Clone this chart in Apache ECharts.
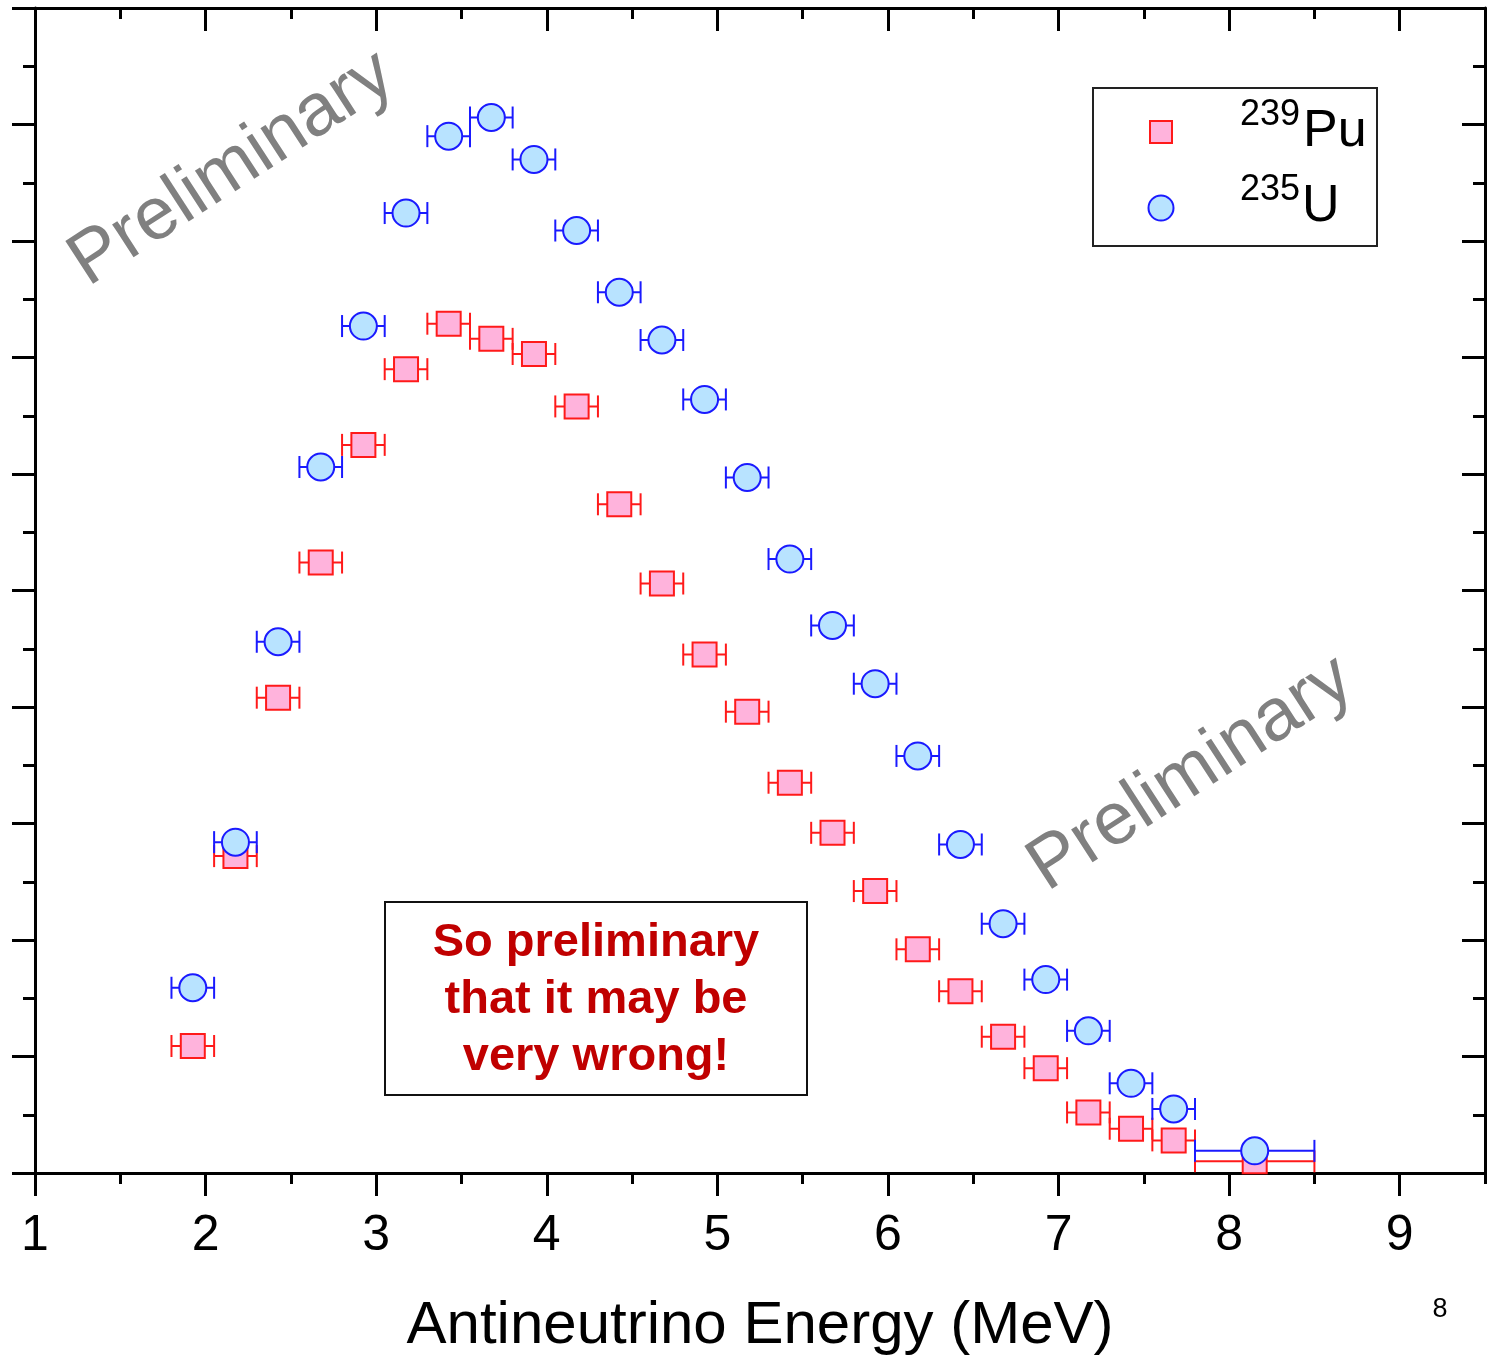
<!DOCTYPE html>
<html>
<head>
<meta charset="utf-8">
<title>Antineutrino spectra</title>
<script src="https://cdn.jsdelivr.net/npm/echarts@6/dist/echarts.min.js"></script>
<style>
  html, body { margin: 0; padding: 0; background: #fff; }
  #chart { width: 1501px; height: 1356px; }
</style>
</head>
<body>
<div id="chart"></div>
<script>
// energy bins (MeV)
const binLow = [1.80, 2.05, 2.30, 2.55, 2.80, 3.05, 3.30, 3.55, 3.80, 4.05, 4.30, 4.55, 4.80,
  5.05, 5.30, 5.55, 5.80, 6.05, 6.30, 6.55, 6.80, 7.05, 7.30, 7.55, 7.80]
const binHigh = [2.05, 2.30, 2.55, 2.80, 3.05, 3.30, 3.55, 3.80, 4.05, 4.30, 4.55, 4.80, 5.05,
  5.30, 5.55, 5.80, 6.05, 6.30, 6.55, 6.80, 7.05, 7.30, 7.55, 7.80, 8.50]
const energy = [1.925, 2.175, 2.425, 2.675, 2.925, 3.175, 3.425, 3.675, 3.925, 4.175, 4.425, 4.675, 4.925,
  5.175, 5.425, 5.675, 5.925, 6.175, 6.425, 6.675, 6.925, 7.175, 7.425, 7.675, 8.15]

// spectra, arbitrary units
const pu239 = [1.09, 2.72, 4.08, 5.24, 6.25, 6.90, 7.29, 7.16, 7.03, 6.58, 5.74, 5.06, 4.45,
  3.96, 3.35, 2.92, 2.42, 1.92, 1.56, 1.17, 0.90, 0.52, 0.38, 0.28, 0.10]
const u235 = [1.59, 2.84, 4.56, 6.06, 7.27, 8.24, 8.90, 9.06, 8.70, 8.09, 7.56, 7.15, 6.64,
  5.97, 5.27, 4.70, 4.20, 3.58, 2.82, 2.14, 1.66, 1.22, 0.77, 0.55, 0.19]

const xMajor = [1, 2, 3, 4, 5, 6, 7, 8, 9]

const FONT = 'Liberation Sans, Arial, sans-serif'
const PU_LINE = '#ff1a1a'
const PU_FILL = '#ffb3dc'
const U_LINE = '#1a1aff'
const U_FILL = '#b8e3ff'

const chart = echarts.init(document.getElementById('chart'))

const errorBars = (name, values, color, z) => ({
  name,
  type: 'custom',
  silent: true,
  z,
  encode: { x: [0, 1], y: 2 },
  data: binLow.map((lo, i) => [lo, binHigh[i], values[i]]),
  renderItem: (params, api) => {
    const y = api.value(2)
    const a = api.coord([api.value(0), y])
    const b = api.coord([api.value(1), y])
    const cap = 11
    const style = { stroke: color, lineWidth: 2, fill: null }
    return {
      type: 'group',
      children: [
        { type: 'line', shape: { x1: a[0], y1: a[1], x2: b[0], y2: b[1] }, style },
        { type: 'line', shape: { x1: a[0], y1: a[1] - cap, x2: a[0], y2: a[1] + cap }, style },
        { type: 'line', shape: { x1: b[0], y1: b[1] - cap, x2: b[0], y2: b[1] + cap }, style }
      ]
    }
  }
})

const axisLine = { show: true, lineStyle: { color: '#000', width: 3 } }
const tickStyle = { color: '#000', width: 3 }

const majorX = (position, inside, withLabels) => ({
  type: 'value',
  position,
  min: 1,
  max: 9.5,
  axisLine,
  axisTick: { show: true, inside, length: 23, customValues: xMajor, lineStyle: tickStyle },
  axisLabel: withLabels
    ? { show: true, customValues: xMajor, fontSize: 50, margin: 38, color: '#000', fontFamily: FONT }
    : { show: false },
  splitLine: { show: false }
})

const minorX = (position, inside) => ({
  type: 'value',
  position,
  min: 1,
  max: 9.5,
  interval: 0.5,
  axisLine: { show: false },
  axisTick: { show: true, inside, length: 11, lineStyle: tickStyle },
  axisLabel: { show: false },
  splitLine: { show: false }
})

const sideY = (position, inside) => ({
  type: 'value',
  position,
  min: 0,
  max: 10,
  interval: 1,
  axisLine,
  axisTick: { show: true, inside, length: 23, lineStyle: tickStyle },
  minorTick: { show: true, splitNumber: 2, length: 12, lineStyle: tickStyle },
  axisLabel: { show: false },
  splitLine: { show: false },
  minorSplitLine: { show: false }
})

const xBottom = majorX('bottom', false, true)
xBottom.name = 'Antineutrino Energy (MeV)'
xBottom.nameLocation = 'middle'
xBottom.nameGap = 123
xBottom.nameTextStyle = { fontSize: 60, color: '#000', fontFamily: FONT }

const prelim = (x, y) => ({
  type: 'text',
  x,
  y,
  rotation: 33 * Math.PI / 180,
  z: 1,
  style: {
    text: 'Preliminary',
    fill: '#808080',
    font: '74px ' + FONT,
    align: 'center',
    verticalAlign: 'middle'
  }
})

const option = {
  animation: false,
  backgroundColor: '#fff',
  grid: { left: 35, right: 16, top: 8, bottom: 183, containLabel: false, outerBoundsMode: 'none' },
  xAxis: [
    xBottom,
    minorX('bottom', false),
    majorX('top', true, false),
    minorX('top', true)
  ],
  yAxis: [sideY('left', false), sideY('right', true)],
  graphic: [
    prelim(232, 169),
    prelim(1191, 774),
    // legend box
    { type: 'rect', shape: { x: 1093, y: 88, width: 284, height: 158 }, style: { fill: null, stroke: '#222', lineWidth: 2 }, z: 10 },
    { type: 'rect', shape: { x: 1150, y: 121, width: 22, height: 22 }, style: { fill: PU_FILL, stroke: PU_LINE, lineWidth: 2 }, z: 10 },
    { type: 'circle', shape: { cx: 1161, cy: 208, r: 12.5 }, style: { fill: U_FILL, stroke: U_LINE, lineWidth: 2 }, z: 10 },
    { type: 'text', x: 1240, y: 115, z: 10, style: { text: '239', font: '36px ' + FONT, fill: '#000', align: 'left', verticalAlign: 'middle' } },
    { type: 'text', x: 1303, y: 132, z: 10, style: { text: 'Pu', font: '52px ' + FONT, fill: '#000', align: 'left', verticalAlign: 'middle' } },
    { type: 'text', x: 1240, y: 190, z: 10, style: { text: '235', font: '36px ' + FONT, fill: '#000', align: 'left', verticalAlign: 'middle' } },
    { type: 'text', x: 1302, y: 207, z: 10, style: { text: 'U', font: '52px ' + FONT, fill: '#000', align: 'left', verticalAlign: 'middle' } },
    // warning box
    { type: 'rect', shape: { x: 385, y: 902, width: 422, height: 193 }, style: { fill: '#fff', stroke: '#111', lineWidth: 2 }, z: 10 },
    {
      type: 'text', x: 596, y: 1000, z: 11,
      style: {
        text: 'So preliminary\nthat it may be\nvery wrong!',
        font: 'bold 47px ' + FONT,
        lineHeight: 57,
        fill: '#c00000',
        align: 'center',
        verticalAlign: 'middle'
      }
    },
    // slide number
    { type: 'text', x: 1440, y: 1310, z: 10, style: { text: '8', font: '27px ' + FONT, fill: '#000', align: 'center', verticalAlign: 'middle' } }
  ],
  series: [
    errorBars('239Pu err', pu239, PU_LINE, 3),
    {
      name: '239Pu',
      type: 'scatter',
      z: 4,
      symbol: 'rect',
      symbolSize: 24,
      itemStyle: { color: PU_FILL, borderColor: PU_LINE, borderWidth: 2, opacity: 1 },
      data: energy.map((e, i) => [e, pu239[i]])
    },
    errorBars('235U err', u235, U_LINE, 5),
    {
      name: '235U',
      type: 'scatter',
      z: 6,
      symbol: 'circle',
      symbolSize: 27,
      itemStyle: { color: U_FILL, borderColor: U_LINE, borderWidth: 2, opacity: 1 },
      data: energy.map((e, i) => [e, u235[i]])
    }
  ]
}

chart.setOption(option)
</script>
</body>
</html>
